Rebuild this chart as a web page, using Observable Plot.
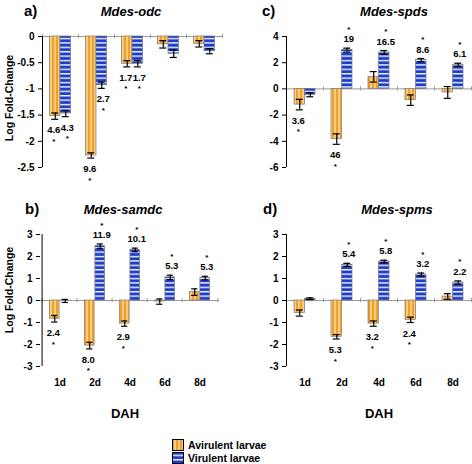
<!DOCTYPE html>
<html>
<head>
<meta charset="utf-8">
<script src="https://cdn.jsdelivr.net/npm/d3@7"></script>
<script src="https://cdn.jsdelivr.net/npm/@observablehq/plot@0.6"></script>
<style>
  body { margin: 0; background: #fff; font-family: "Liberation Sans", Arial, sans-serif; }
  #wrap { position: relative; width: 472px; height: 464px; overflow: hidden; }
  .abs { position: absolute; white-space: nowrap; font-weight: bold; color: #000; line-height: 1; }
  .panel { position: absolute; }
  .tag { font-size: 15px; }
  .ttl { font-size: 13px; font-style: italic; transform: translate(-50%, -50%); }
  .ylab { font-size: 10.5px; transform: translate(-50%, -50%) rotate(-90deg); }
  .dah { font-size: 13px; transform: translate(-50%, -50%); }
  .leg { font-size: 10.5px; }
</style>
</head>
<body>
<svg width="0" height="0" style="position:absolute">
  <defs>
    <pattern id="avirPat" patternUnits="userSpaceOnUse" width="4" height="8">
      <rect width="4" height="8" fill="#F0A02C"/>
      <rect x="2.4" width="1.3" height="8" fill="#FCE3A6"/>
    </pattern>
    <pattern id="virPat" patternUnits="userSpaceOnUse" width="8" height="4.4">
      <rect width="8" height="4.4" fill="#1F3FCB"/>
      <rect y="2.7" width="8" height="1.3" fill="#FFFFFF"/>
    </pattern>
  </defs>
</svg>
<div id="wrap"></div>
<script>
// ---- data ----
const days = ["1d", "2d", "4d", "6d", "8d"];

// a) Mdes-odc
const odcAvir = [-1.52, -2.27, -0.52, -0.15, -0.14];
const odcAvirErr = [0.06, 0.05, 0.06, 0.07, 0.06];
const odcVir = [-1.47, -0.93, -0.52, -0.33, -0.28];
const odcVirErr = [0.06, 0.06, 0.06, 0.07, 0.05];
const odcAvirLab = ["4.6", "9.6", "1.7", "", ""];
const odcVirLab = ["4.3", "2.7", "1.7", "", ""];
const odcTicks = [0, -0.5, -1, -1.5, -2, -2.5];

// b) Mdes-samdc
const samdcAvir = [-0.83, -2.05, -1.05, -0.05, 0.38];
const samdcAvirErr = [0.15, 0.15, 0.12, 0.12, 0.15];
const samdcVir = [-0.02, 2.47, 2.3, 1.05, 1.02];
const samdcVirErr = [0.07, 0.1, 0.08, 0.1, 0.08];
const samdcAvirLab = ["2.4", "8.0", "2.9", "", ""];
const samdcVirLab = ["", "11.9", "10.1", "5.3", "5.3"];
const samdcTicks = [3, 2, 1, 0, -1, -2, -3];

// c) Mdes-spds
const spdsAvir = [-1.2, -3.83, 0.92, -0.86, -0.27];
const spdsAvirErr = [0.4, 0.4, 0.4, 0.4, 0.45];
const spdsVir = [-0.45, 2.96, 2.78, 2.2, 1.84];
const spdsVirErr = [0.15, 0.15, 0.15, 0.12, 0.12];
const spdsAvirLab = ["3.6", "46", "", "", ""];
const spdsVirLab = ["", "19", "16.5", "8.6", "6.1"];
const spdsTicks = [4, 2, 0, -2, -4, -6];

// d) Mdes-spms
const spmsAvir = [-0.57, -1.65, -1.05, -0.88, 0.18];
const spmsAvirErr = [0.14, 0.1, 0.12, 0.12, 0.13];
const spmsVir = [0.08, 1.62, 1.77, 1.18, 0.82];
const spmsVirErr = [0.04, 0.07, 0.06, 0.07, 0.07];
const spmsAvirLab = ["", "5.3", "3.2", "2.4", ""];
const spmsVirLab = ["", "5.4", "5.8", "3.2", "2.2"];
const spmsTicks = [3, 2, 1, 0, -1, -2, -3];

const panelTitles = ["Mdes-odc", "Mdes-samdc", "Mdes-spds", "Mdes-spms"];
const panelTags = ["a)", "b)", "c)", "d)"];
const seriesNames = ["Avirulent larvae", "Virulent larvae"];
const xTitle = "DAH";
const yTitle = "Log Fold-Change";

// ---- drawing ----
const wrap = document.getElementById("wrap");
const FONT = "Liberation Sans, Arial, sans-serif";

function rowsOf(vals, errs, labs) {
  return days.map((d, i) => ({day: d, v: vals[i], e: errs[i], lab: labs[i]}));
}

function labelMarks(rows, dx) {
  const neg = rows.filter(r => r.lab && r.v < 0);
  const pos = rows.filter(r => r.lab && r.v >= 0);
  const common = {x: "day", dx, fontWeight: "bold", fill: "#000"};
  return [
    Plot.text(neg, {...common, y: r => r.v - r.e, text: "lab", dy: 11, fontSize: 9.5}),
    Plot.text(neg, {...common, y: r => r.v - r.e, text: () => "*", dy: 22, fontSize: 8}),
    Plot.text(pos, {...common, y: r => r.v + r.e, text: "lab", dy: -9, fontSize: 9.5}),
    Plot.text(pos, {...common, y: r => r.v + r.e, text: () => "*", dy: -19, fontSize: 8})
  ];
}

function panel(cfg) {
  const {avir, avirErr, avirLab, vir, virErr, virLab, domain, ticks,
         left, top, width, height, ml, mr, mt, mb, showX} = cfg;
  const A = rowsOf(avir, avirErr, avirLab);
  const V = rowsOf(vir, virErr, virLab);
  const step = (width - ml - mr) / days.length;
  const half = step / 2;
  const bw = 10.5;
  const cap = 3.5;
  const lo = Math.min(...domain), hi = Math.max(...domain);
  const plot = Plot.plot({
    width, height,
    marginLeft: ml, marginRight: mr, marginTop: mt, marginBottom: mb,
    style: {fontFamily: FONT, fontSize: "10px", fontWeight: "bold", color: "#000", background: "transparent", overflow: "visible"},
    x: {type: "band", domain: days, padding: 0, axis: showX ? "bottom" : null,
        tickSize: 0, tickPadding: 12, label: null},
    y: {domain, ticks, tickFormat: d => String(d), tickSize: 4, tickPadding: 4, label: null},
    marks: [
      Plot.ruleY([0], {stroke: "#999", strokeWidth: 1}),
      Plot.ruleX(days, {x: d => d, dx: -half, y1: () => 0, y2: () => 0, insetTop: -2, insetBottom: -2, stroke: "#999"}),
      Plot.ruleX(days.slice(-1), {x: d => d, dx: half, y1: () => 0, y2: () => 0, insetTop: -2, insetBottom: -2, stroke: "#999"}),
      Plot.barY(A, {x: "day", y: "v", insetLeft: half - bw, insetRight: half,
                    fill: "url(#avirPat)", stroke: "#7a7a7a", strokeWidth: 0.7}),
      Plot.barY(V, {x: "day", y: "v", insetLeft: half, insetRight: half - bw,
                    fill: "url(#virPat)", stroke: "#7a7a7a", strokeWidth: 0.7}),
      Plot.ruleX(A, {x: "day", dx: -bw / 2, y1: r => r.v - r.e, y2: r => r.v + r.e, stroke: "#000", strokeWidth: 1.2}),
      Plot.ruleX(V, {x: "day", dx: bw / 2, y1: r => r.v - r.e, y2: r => r.v + r.e, stroke: "#000", strokeWidth: 1.2}),
      Plot.tickY(A, {x: "day", y: r => r.v - r.e, insetLeft: half - bw / 2 - cap, insetRight: half + bw / 2 - cap, stroke: "#000", strokeWidth: 1.2}),
      Plot.tickY(A, {x: "day", y: r => r.v + r.e, insetLeft: half - bw / 2 - cap, insetRight: half + bw / 2 - cap, stroke: "#000", strokeWidth: 1.2}),
      Plot.tickY(V, {x: "day", y: r => r.v - r.e, insetLeft: half + bw / 2 - cap, insetRight: half - bw / 2 - cap, stroke: "#000", strokeWidth: 1.2}),
      Plot.tickY(V, {x: "day", y: r => r.v + r.e, insetLeft: half + bw / 2 - cap, insetRight: half - bw / 2 - cap, stroke: "#000", strokeWidth: 1.2}),
      Plot.ruleX(days.slice(0, 1), {x: d => d, dx: -half, y1: () => lo, y2: () => hi, stroke: "#000", strokeWidth: 1}),
      ...labelMarks(A, -bw / 2 - 1.5),
      ...labelMarks(V, bw / 2 + 1.5)
    ]
  });
  plot.classList.add("panel");
  plot.style.left = left + "px";
  plot.style.top = top + "px";
  wrap.appendChild(plot);
}

function addText(cls, text, left, top) {
  const el = document.createElement("div");
  el.className = "abs " + cls;
  el.textContent = text;
  el.style.left = left + "px";
  el.style.top = top + "px";
  wrap.appendChild(el);
  return el;
}

panel({avir: odcAvir, avirErr: odcAvirErr, avirLab: odcAvirLab, vir: odcVir, virErr: odcVirErr, virLab: odcVirLab,
       domain: [-2.5, 0], ticks: odcTicks, left: 0, top: 0, width: 236, height: 192, ml: 42, mr: 14, mt: 36, mb: 25, showX: false});
panel({avir: samdcAvir, avirErr: samdcAvirErr, avirLab: samdcAvirLab, vir: samdcVir, virErr: samdcVirErr, virLab: samdcVirLab,
       domain: [-3, 3], ticks: samdcTicks, left: 0, top: 196, width: 236, height: 230, ml: 40, mr: 17, mt: 38, mb: 60, showX: true});
panel({avir: spdsAvir, avirErr: spdsAvirErr, avirLab: spdsAvirLab, vir: spdsVir, virErr: spdsVirErr, virLab: spdsVirLab,
       domain: [-6, 4], ticks: spdsTicks, left: 236, top: 0, width: 236, height: 192, ml: 50, mr: 1, mt: 36, mb: 25, showX: false});
panel({avir: spmsAvir, avirErr: spmsAvirErr, avirLab: spmsAvirLab, vir: spmsVir, virErr: spmsVirErr, virLab: spmsVirLab,
       domain: [-3, 3], ticks: spmsTicks, left: 236, top: 196, width: 236, height: 230, ml: 50, mr: 1, mt: 38, mb: 60, showX: true});

// tags and titles
addText("tag", panelTags[0], 24, 3);
addText("tag", panelTags[1], 25, 201);
addText("tag", panelTags[2], 262, 3);
addText("tag", panelTags[3], 263, 201);
addText("ttl", panelTitles[0], 131, 11);
addText("ttl", panelTitles[1], 123, 209);
addText("ttl", panelTitles[2], 394, 11);
addText("ttl", panelTitles[3], 397, 209);

// y titles
addText("ylab", yTitle, 9, 98);
addText("ylab", yTitle, 9, 290);

// x titles
addText("dah", xTitle, 125, 413);
addText("dah", xTitle, 379, 413);

// legend
const fills = ["url(#avirPat)", "url(#virPat)"];
seriesNames.forEach((name, i) => {
  const y = 439 + i * 13;
  const sw = document.createElementNS("http://www.w3.org/2000/svg", "svg");
  sw.setAttribute("width", 12);
  sw.setAttribute("height", 12);
  sw.style.position = "absolute";
  sw.style.left = "172px";
  sw.style.top = y + "px";
  const r = document.createElementNS("http://www.w3.org/2000/svg", "rect");
  r.setAttribute("x", 0.5); r.setAttribute("y", 0.5);
  r.setAttribute("width", 11); r.setAttribute("height", 11);
  r.setAttribute("fill", fills[i]); r.setAttribute("stroke", "#000");
  sw.appendChild(r);
  wrap.appendChild(sw);
  addText("leg", name, 188, y + 1);
});
</script>
</body>
</html>
